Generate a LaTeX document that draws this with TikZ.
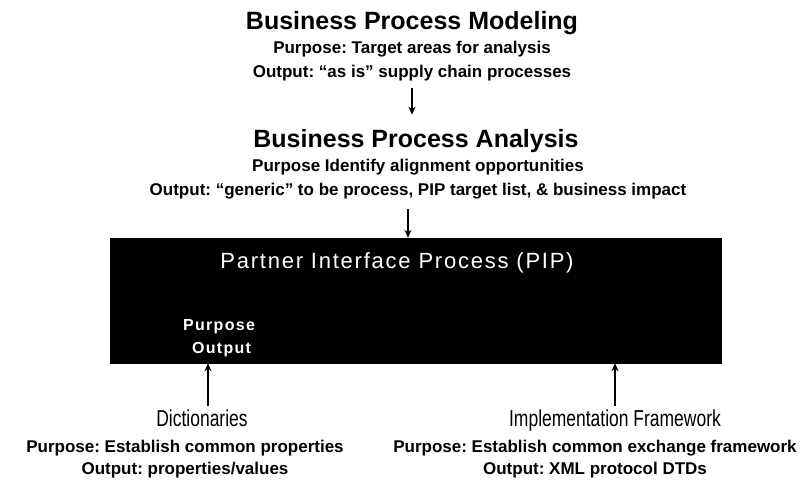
\documentclass[tikz,border=0pt]{standalone}
\usepackage{fontspec}
\setmainfont{Liberation Sans}
\newfontfamily\narrowfont[FakeStretch=0.76]{Liberation Sans}
\newfontfamily\spacedfont[LetterSpace=8]{Liberation Sans}
\usetikzlibrary{arrows.meta}

\begin{document}
\begin{tikzpicture}[x=1pt, y=-1pt,
		heading/.style={font=\fontsize{25}{30}\selectfont\bfseries, anchor=base, inner sep=3pt},
		details/.style={font=\fontsize{17}{24}\selectfont\bfseries\frenchspacing, align=center, anchor=base, inner sep=3pt},
		subhead/.style={font=\narrowfont\fontsize{23}{28}\selectfont, anchor=base, inner sep=3pt},
		flow/.style={line width=2pt, -{Stealth[length=8pt, width=7pt]}}]
		\useasboundingbox (0,0) rectangle (809,480);

		% the two steps at the top
		\node[heading] (bpm) at (412,29) {Business Process Modeling};
		\node[details] (bpminfo) at (412,77) {Purpose: Target areas for analysis\\Output: “as is” supply chain processes};

		\node[heading] (bpa) at (416,147) {Business Process Analysis};
		\node[details] (bpainfo) at (418,195) {Purpose Identify alignment opportunities\\Output: “generic” to be process, PIP target list, \& business impact};

		% PIP box
		\node[draw, fill=black, minimum width=611pt, minimum height=125pt, inner sep=0pt] (pip) at (415.5,300.5) {};
		\node[font=\spacedfont\fontsize{22}{26}\selectfont, text=white, anchor=base] (piptitle) at (397,268) {Partner Interface Process (PIP)};
		\node[font=\spacedfont\fontsize{16}{20}\selectfont\bfseries, text=white, anchor=base west, inner sep=0pt] (pippurpose) at (183,330) {Purpose};
		\node[font=\spacedfont\fontsize{16}{20}\selectfont\bfseries, text=white, anchor=base west, inner sep=0pt] (pipoutput) at (192,353) {Output};

		% the two parts below
		\node[subhead] (dict) at (202,426) {Dictionaries};
		\node[details, font=\fontsize{17}{22}\selectfont\bfseries\frenchspacing] (dictinfo) at (185,474) {Purpose: Establish common properties\\Output: properties/values};

		\node[subhead] (impl) at (615,426) {Implementation Framework};
		\node[details, font=\fontsize{17}{22}\selectfont\bfseries\frenchspacing] (implinfo) at (595,474) {Purpose: Establish common exchange framework\\Output: XML protocol DTDs};

		\draw[flow, shorten <=4pt, shorten >=11pt] (bpminfo.south) -- (bpminfo.south |- bpa.north);
		\draw[flow, shorten <=7pt] ([xshift=-10pt]bpainfo.south) -- ([xshift=-10pt]bpainfo.south |- pip.north);
		\draw[flow] ([xshift=6pt]dict.north) -- ([xshift=6pt]dict.north |- pip.south);
		\draw[flow] (impl.north) -- (impl.north |- pip.south);

	\end{tikzpicture}
\end{document}
